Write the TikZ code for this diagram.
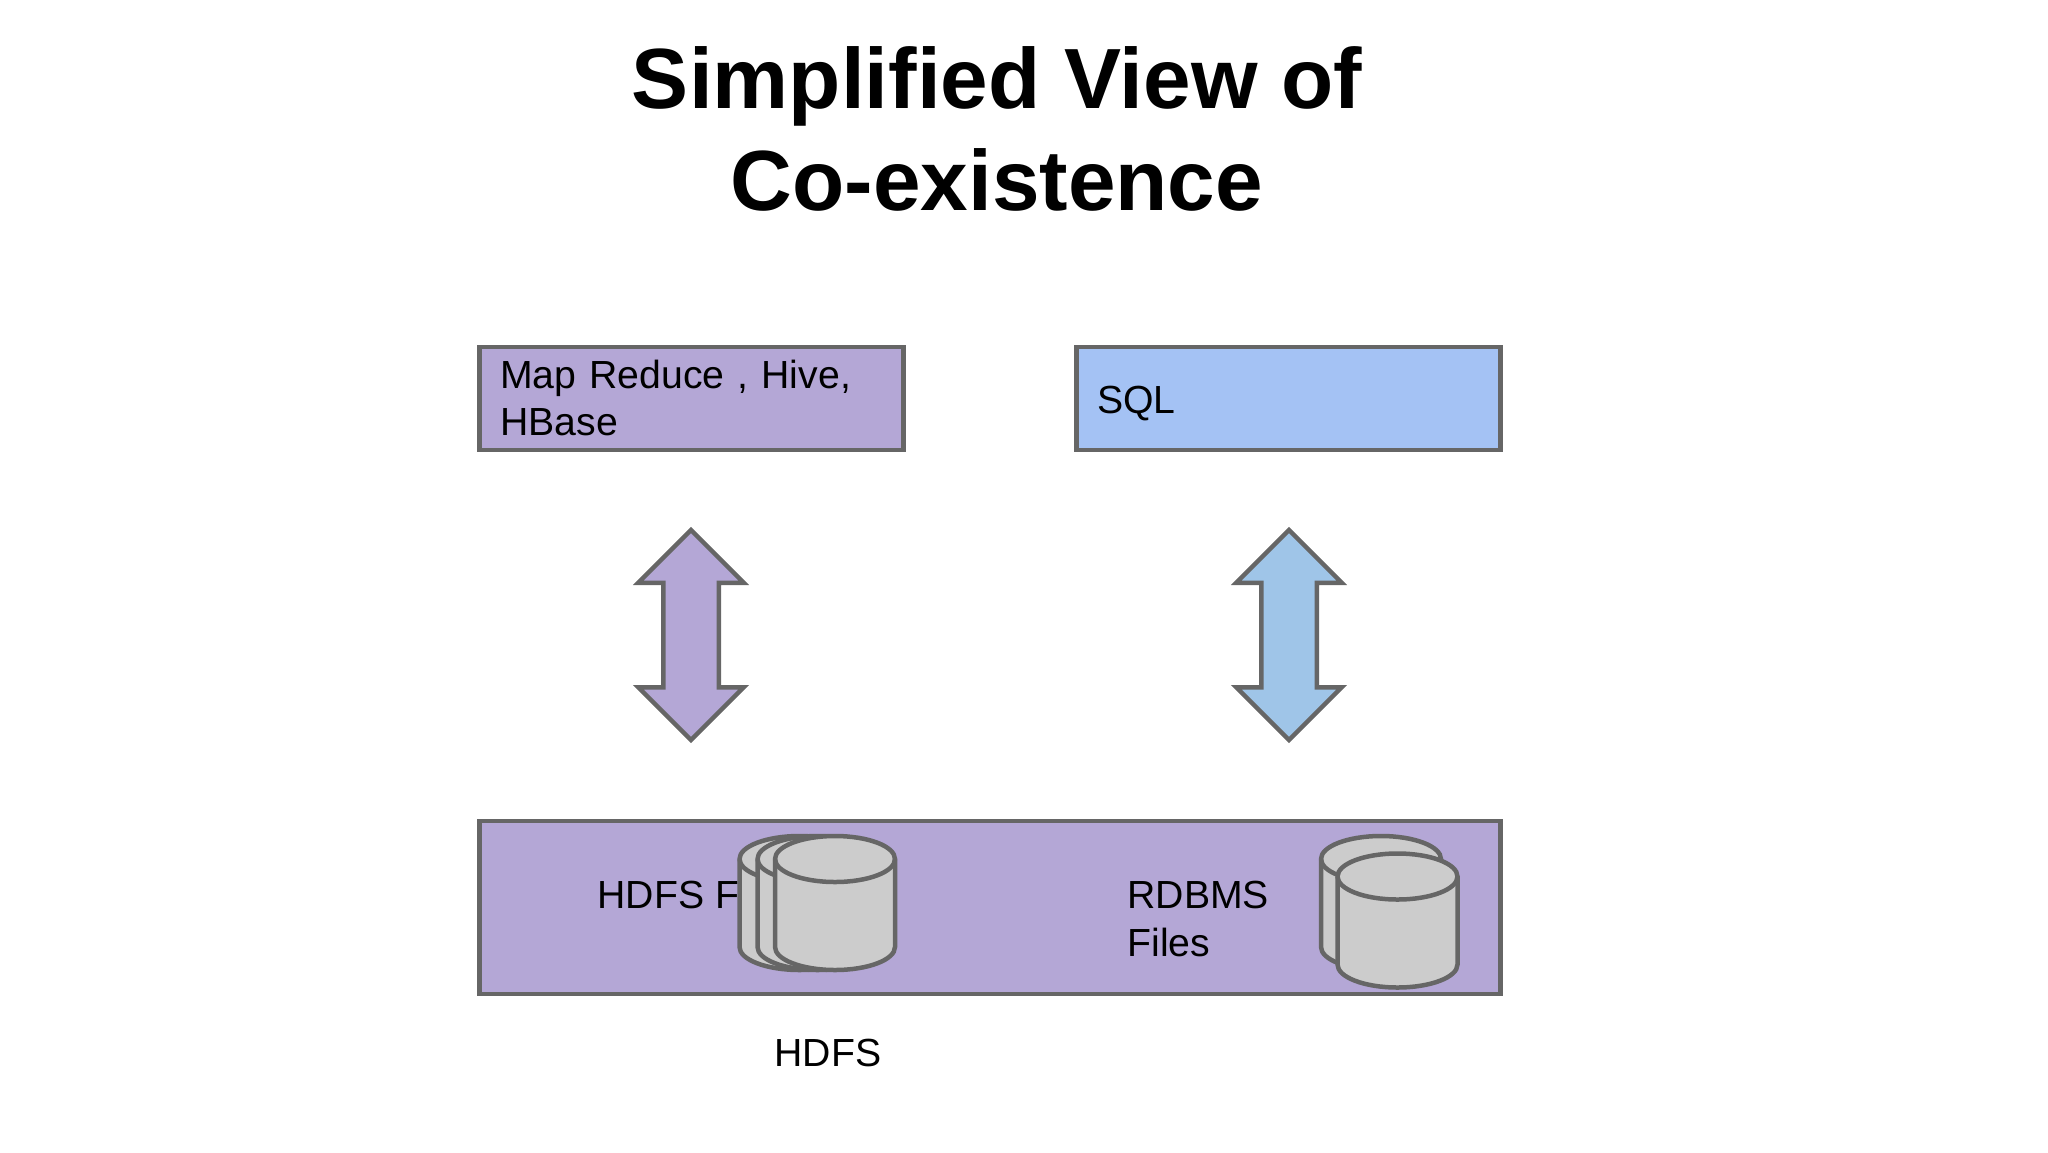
\documentclass[tikz,border=0pt]{standalone}
\usepackage{fontspec}
\setmainfont{Liberation Sans}
\usetikzlibrary{shapes.arrows}
\definecolor{slidePurple}{HTML}{B4A7D6}
\definecolor{slideBlue}{HTML}{A4C2F4}
\definecolor{slideSky}{HTML}{9FC5E8}
\definecolor{slideGrey}{HTML}{666666}
\definecolor{diskGrey}{HTML}{CCCCCC}
\tikzset{
  layerbox/.style={draw=slideGrey, line width=4.5pt, minimum height=103pt, text width=#1-42pt, inner xsep=21pt, inner ysep=0pt, align=left, font=\fontsize{39.2}{47}\selectfont, anchor=north west},
  updown/.style={draw=slideGrey, line width=4.5pt, shape=double arrow, shape border rotate=90, double arrow head extend=25pt, double arrow head indent=0pt, minimum height=210pt, inner xsep=25.5pt, inner ysep=0pt},
  disk/.pic={
    \draw[draw=slideGrey, fill=diskGrey, line width=4.5pt] (-60pt,-44pt) -- (-60pt,44pt) arc[start angle=180, end angle=0, x radius=60pt, y radius=23pt] -- (60pt,-44pt) arc[start angle=0, end angle=-180, x radius=60pt, y radius=23pt] -- cycle;
    \draw[draw=slideGrey, line width=4.5pt] (-60pt,44pt) arc[start angle=180, end angle=360, x radius=60pt, y radius=23pt];
  },
  label/.style={font=\fontsize{39.2}{48}\selectfont, anchor=base west, align=left}
}
\begin{document}
\begin{tikzpicture}[x=1pt, y=-1pt]
    \useasboundingbox (0,0) rectangle (2048,1152);
    \node[font=\fontsize{85.5}{102}\selectfont\bfseries, align=center] (Title) at (997,129) {Simplified View of\\Co-existence};

    \node[layerbox=424pt, fill=slidePurple] (Map) at (477,344.5) {Map Reduce , Hive,\\HBase};
    \node[layerbox=424pt, fill=slideBlue] (Sql) at (1074,344.5) {\raisebox{-1.5pt}[\height][0pt]{SQL}};

    \node[updown, fill=slidePurple] (MapArrow) at (691,635) {};
    \node[updown, fill=slideSky] (SqlArrow) at (1289,635) {};

    \node[draw=slideGrey, fill=slidePurple, line width=4.5pt, minimum width=1021pt, minimum height=173pt, inner sep=0pt, anchor=north west] (Store) at (477,818.5) {};

    \node[label] (HdfsFiles) at (594,908) {HDFS Files};
    \pic (HdfsA) at (799.5,903) {disk};
    \pic (HdfsB) at (817.5,903) {disk};
    \pic (HdfsC) at (835,903) {disk};

    \node[label, anchor=north west] (RdbmsFiles) at (1124,878) {RDBMS\\Files};
    \pic (RdbmsA) at (1381,903) {disk};
    \pic (RdbmsB) at (1397.5,920.5) {disk};

    \node[label, anchor=base] (Hdfs) at (828,1066) {HDFS};
\end{tikzpicture}
\end{document}
